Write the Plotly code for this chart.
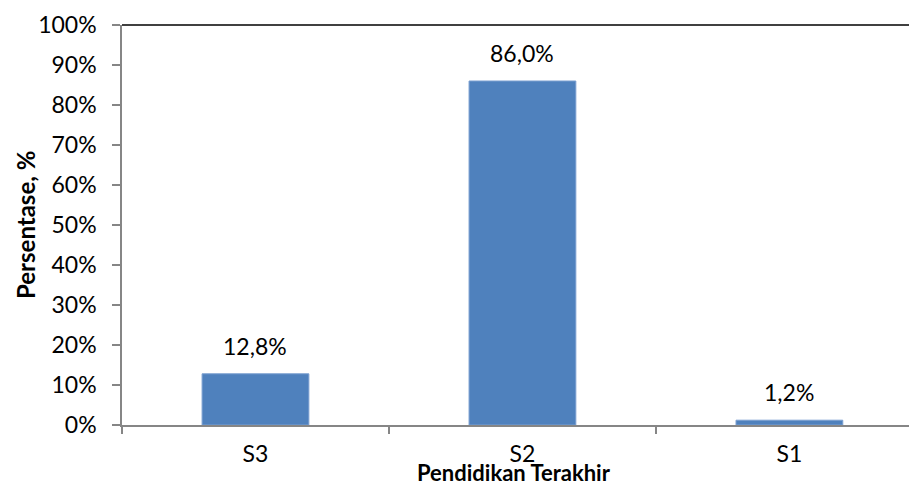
import plotly.graph_objects as go

categories = ["S3", "S2", "S1"]
values = [12.8, 86.0, 1.2]
y_ticks = list(range(0, 101, 10))
y_tick_labels = [f"{v}%" for v in y_ticks]

FONT = "Lato"
FS = 23
fig = go.Figure()
fig.add_trace(go.Bar(
    x=categories, y=values, width=0.4,
    marker=dict(color="#4F81BD", line=dict(color="#7A9FD0", width=1)),
    hoverinfo="skip",
))

for c, v in zip(categories, values):
    fig.add_annotation(
        x=c, y=v, text=f"{v:.1f}%".replace(".", ","), showarrow=False,
        yanchor="bottom", yshift=12, font=dict(family=FONT, size=FS, color="#000000"),
    )

fig.add_annotation(
    xref="paper", yref="paper", x=0.5, y=0, xanchor="center", yanchor="bottom",
    yshift=-63, xshift=-2, text="<b>Pendidikan Terakhir</b>", showarrow=False,
    font=dict(family=FONT, size=22, color="#000000"),
)
fig.add_annotation(
    xref="paper", yref="paper", x=0, y=0.5, xanchor="center", yanchor="middle",
    xshift=-97, textangle=-90, text="<b>Persentase, %</b>", showarrow=False,
    font=dict(family=FONT, size=24, color="#000000"),
)

fig.add_shape(type="line", xref="paper", yref="paper", x0=0, x1=1, y0=1, y1=1,
              line=dict(color="#000000", width=1.5))

fig.update_layout(
    width=909, height=488,
    margin=dict(l=122, r=0, t=25, b=63),
    paper_bgcolor="white", plot_bgcolor="white",
    showlegend=False,
    font=dict(family=FONT, size=FS, color="#000000"),
    xaxis=dict(
        type="category", range=[-0.5, 2.448],
        showline=True, linecolor="#868686", linewidth=1.5,
        ticks="outside", ticklen=7, tickcolor="#868686", tickwidth=1.5,
        tickson="boundaries", ticklabelstandoff=8,
        showgrid=False, zeroline=False,
        tickfont=dict(family=FONT, size=FS, color="#000000"),
    ),
    yaxis=dict(
        range=[0, 100], tickvals=y_ticks, ticktext=y_tick_labels,
        showline=True, linecolor="#868686", linewidth=1.5,
        ticks="outside", ticklen=8, tickcolor="#868686", tickwidth=1.5,
        ticklabelstandoff=11,
        showgrid=False, zeroline=False,
        tickfont=dict(family=FONT, size=FS, color="#000000"),
    ),
)

fig.write_html("out.html")
